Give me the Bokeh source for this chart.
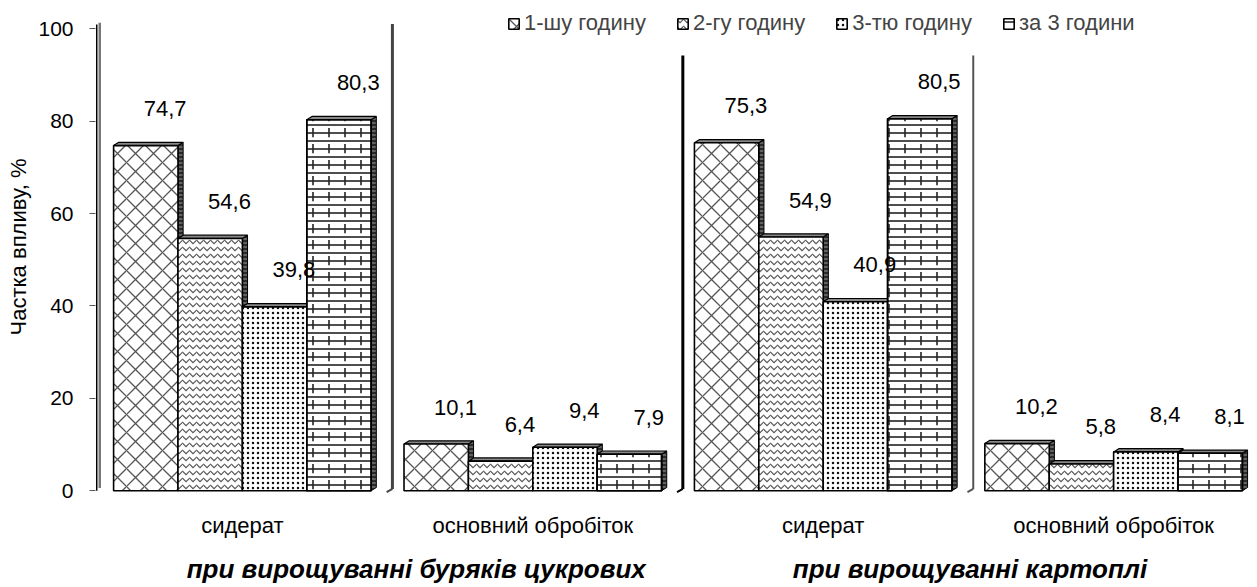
from bokeh.plotting import figure
from bokeh.models import Range1d, LinearAxis, FixedTicker, Legend, LegendItem
from bokeh.core.properties import value
from bokeh.embed import file_html
from bokeh.resources import INLINE

# ---------------- data ----------------
groups = ["сидерат", "основний обробіток", "сидерат", "основний обробіток"]
crops = ["при вирощуванні буряків цукрових", "при вирощуванні картоплі"]
series = ["1-шу годину", "2-гу годину", "3-тю годину", "за 3 години"]
hour1 = [74.7, 10.1, 75.3, 10.2]
hour2 = [54.6, 6.4, 54.9, 5.8]
hour3 = [39.8, 9.4, 40.9, 8.4]
hours3 = [80.3, 7.9, 80.5, 8.1]
y_ticks = [0, 20, 40, 60, 80, 100]
y_title = "Частка впливу, %"

# ---------------- layout constants ----------------
FONT = "Liberation Sans"
FIRST = 0.25      # gap between wall and first bar (bar units)
PERIOD = 4.51     # distance between group starts
DX, DY = 0.08, 0.7   # 3-D depth offsets
LAB_DX, LAB_DY = 0.3, 8.0
CAPTION_X = [4.95, 13.55]

values = [hour1, hour2, hour3, hours3]
group_start = [FIRST + PERIOD * g for g in range(len(groups))]
group_center = [s + 2.0 for s in group_start]

p = figure(width=1249, height=571, output_backend="svg", toolbar_location=None,
           x_range=Range1d(-0.031, 17.89), y_range=Range1d(-0.6, 106.1),
           frame_width=1154, frame_height=493,
           min_border_left=95, min_border_right=0, min_border_top=0, min_border_bottom=78)
p.outline_line_color = None
p.grid.visible = False
p.background_fill_color = "white"

# ---- 3D tops and sides (drawn first, bars cover them) ----
side_xs, side_ys, top_xs, top_ys = [], [], [], []
for k, vals in enumerate(values):
    for g, v in enumerate(vals):
        x0 = group_start[g] + k
        x1 = x0 + 1.0
        side_xs.append([x1, x1 + DX, x1 + DX, x1])
        side_ys.append([0, DY, v + DY, v])
        top_xs.append([x0, x1, x1 + DX, x0 + DX])
        top_ys.append([v, v, v + DY, v + DY])
p.patches(side_xs, side_ys, fill_color="#2a2a2a", line_color="black", line_width=1,
          hatch_pattern="horizontal_line", hatch_color="#999", hatch_scale=4)
p.patches(top_xs, top_ys, fill_color="#888", line_color="black", line_width=1.2)

# ---- bars ----
styles = [
    dict(hatch_pattern="diagonal_cross", hatch_scale=18, hatch_weight=1.3, hatch_color="#555"),
    dict(hatch_pattern="horizontal_wave", hatch_scale=7, hatch_weight=1.2, hatch_color="#555"),
    dict(hatch_pattern="dot", hatch_scale=5, hatch_weight=2.6, hatch_color="#111"),
    dict(hatch_pattern="horizontal_line", hatch_scale=8, hatch_weight=1.6, hatch_color="#222"),
]
renderers = []
for k, vals in enumerate(values):
    xs = [group_start[g] + k + 0.5 for g in range(len(vals))]
    r = p.vbar(x=xs, top=vals, width=1.0, bottom=0, fill_color="white",
               line_color="black", line_width=1.6, **styles[k])
    renderers.append(r)
    if k == 3:
        p.vbar(x=xs, top=vals, width=1.0, bottom=0, fill_alpha=0, line_color="black",
               line_width=1.6, hatch_pattern="vertical_dash", hatch_scale=16,
               hatch_weight=1.6, hatch_color="#222")

# ---- value labels ----
lx, ly, lt = [], [], []
for k, vals in enumerate(values):
    for g, v in enumerate(vals):
        lx.append(group_start[g] + k + 0.5 + LAB_DX)
        ly.append(v + LAB_DY)
        lt.append(f"{v:.1f}".replace(".", ","))
p.text(x=lx, y=ly, text=lt, text_font=value(FONT), text_font_size="22px",
       text_align="center", text_baseline="middle", text_color="black")

# ---- wall and separators ----
p.segment(x0=[-0.012], y0=[0], x1=[-0.012], y1=[100.9], line_color="black", line_width=1.5)
p.segment(x0=[0.035], y0=[0.6], x1=[0.035], y1=[101.3], line_color="#777", line_width=2.5)
sep_x = [group_start[g] - 0.18 for g in range(1, len(groups))]
sep_top = [101.0, 94.2, 94.2]
sep_col = ["#444", "black", "#555"]
sep_w = [3, 3, 2]
p.segment(x0=sep_x, y0=[0.4] * 3, x1=sep_x, y1=sep_top, line_color=sep_col, line_width=sep_w)
p.segment(x0=sep_x, y0=[0.4] * 3, x1=[x - 0.09 for x in sep_x], y1=[-0.3] * 3,
          line_color=sep_col, line_width=2)

# ---- axes ----
yax = p.yaxis[0]
yax.ticker = FixedTicker(ticks=y_ticks)
yax.axis_line_color = None
yax.major_tick_line_color = "#555"
yax.major_tick_out = 6
yax.major_tick_in = 0
yax.minor_tick_line_color = None
yax.major_label_text_font = FONT
yax.major_label_text_font_size = "21px"
yax.major_label_text_color = "black"
yax.major_label_standoff = 16
yax.axis_label = y_title
yax.axis_label_text_font = FONT
yax.axis_label_text_font_size = "22px"
yax.axis_label_text_font_style = "normal"
yax.axis_label_text_color = "black"
yax.axis_label_standoff = 4

xax = p.xaxis[0]
xax.ticker = FixedTicker(ticks=group_center)
xax.major_label_overrides = {c: n for c, n in zip(group_center, groups)}
xax.axis_line_color = None
xax.major_tick_line_color = None
xax.minor_tick_line_color = None
xax.major_label_text_font = FONT
xax.major_label_text_font_size = "22px"
xax.major_label_text_color = "black"
xax.major_label_standoff = 13

cax = LinearAxis(ticker=FixedTicker(ticks=CAPTION_X),
                 major_label_overrides={c: n for c, n in zip(CAPTION_X, crops)})
cax.axis_line_color = None
cax.major_tick_line_color = None
cax.minor_tick_line_color = None
cax.major_label_text_font = FONT
cax.major_label_text_font_size = "26px"
cax.major_label_text_font_style = "bold italic"
cax.major_label_text_color = "black"
cax.major_label_standoff = 7
p.add_layout(cax, "below")

# ---- legend ----
legend = Legend(items=[LegendItem(label=s, renderers=[r]) for s, r in zip(series, renderers)],
                orientation="horizontal", location=(412, 457),
                glyph_width=13, glyph_height=13, label_text_font=FONT,
                label_text_font_size="22px", spacing=30, label_standoff=4,
                padding=0, margin=0, border_line_color=None, background_fill_alpha=0)
p.add_layout(legend)

open("out.html", "w").write(file_html(p, INLINE))
